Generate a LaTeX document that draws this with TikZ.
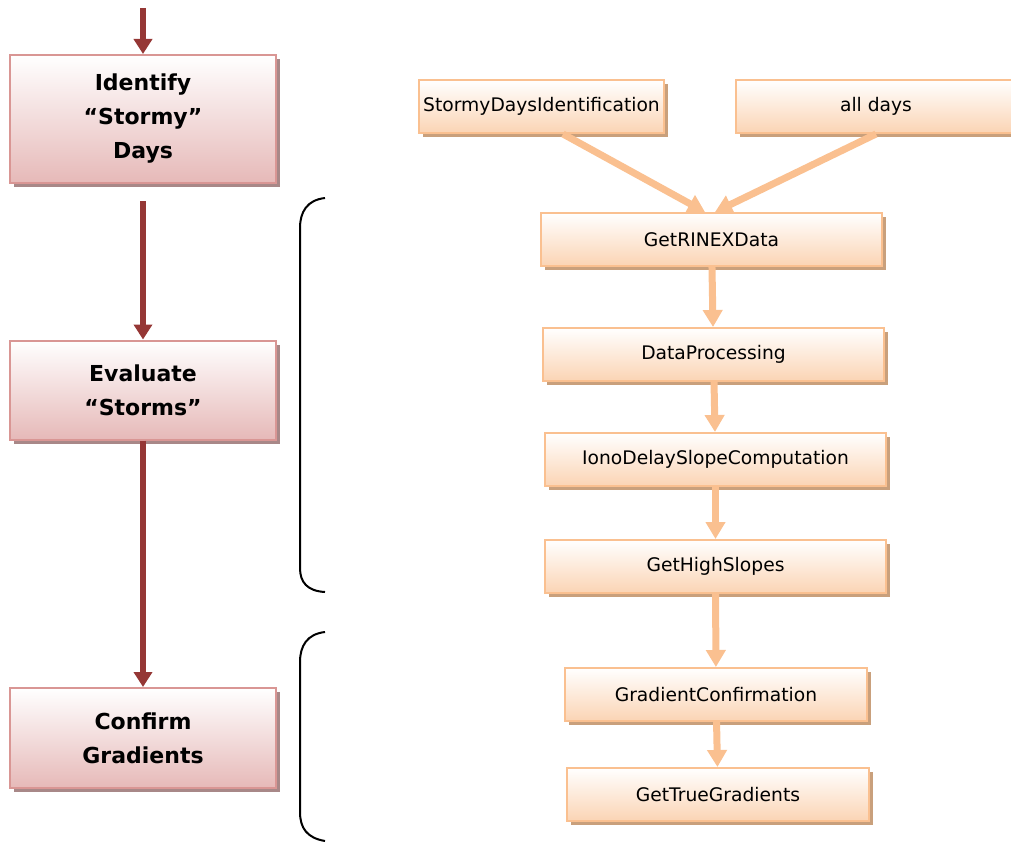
\documentclass[tikz,border=0pt]{standalone}
\usepackage{fontspec}
\setmainfont{DejaVu Sans}
\usetikzlibrary{arrows.meta,shadows}
\definecolor{phaseline}{HTML}{D99694}
\definecolor{phasefill}{HTML}{E6B9B8}
\definecolor{phaseshadow}{HTML}{A88888}
\definecolor{phasearrow}{HTML}{953735}
\definecolor{funcline}{HTML}{FAC090}
\definecolor{funcfill}{HTML}{FBD4B4}
\definecolor{funcshadow}{HTML}{C9A07C}
\tikzset{
  phase/.style={draw=phaseline,line width=2pt,top color=white,bottom color=phasefill,
    minimum width=266pt,align=center,font=\bfseries\fontsize{22}{34}\selectfont,
    general shadow={fill=phaseshadow,shadow xshift=4pt,shadow yshift=-4pt}},
  func/.style={draw=funcline,line width=2pt,top color=white,bottom color=funcfill,
    minimum width=341pt,minimum height=53pt,font=\fontsize{18.7}{22}\selectfont,
    general shadow={fill=funcshadow,shadow xshift=4pt,shadow yshift=-4pt}},
  phasearrow/.style={draw=phasearrow,line width=6pt,-{Triangle[width=18pt,length=15pt]}},
  funcarrow/.style={draw=funcline,line width=7pt,-{Triangle[width=19pt,length=17pt]}}
}
\begin{document}
\begin{tikzpicture}[x=1pt,y=-1pt]
\useasboundingbox(0,0)rectangle(1011,843);
% phases
\node[phase,minimum height=128pt](identify)at(143,119){Identify\\“Stormy”\\Days};
\node[phase,minimum height=99pt](evaluate)at(143,390){Evaluate\\“Storms”};
\node[phase,minimum height=100pt](confirm)at(143,738){Confirm\\Gradients};
\coordinate(start)at(143,8);
\draw[phasearrow](start)--(identify);
\draw[phasearrow,shorten <=17pt](identify)--(evaluate);
\draw[phasearrow](evaluate)--(confirm);
% braces
\draw[line width=2pt](325,198)..controls(307,200)and(300,212)..(300,228)--(300,568)..controls(300,582)and(307,591)..(325,592);
\draw[line width=2pt](325,632)..controls(307,634)and(300,646)..(300,662)--(300,812)..controls(300,828)and(307,838)..(325,841);
% functions
\node[func,minimum width=245pt](stormy)at(541.5,106.5){StormyDaysIdentification};
\node[func,minimum width=280pt](alldays)at(876,106.5){all days};
\node[func](rinex)at(711.5,239.5){GetRINEXData};
\node[func](dataproc)at(713.5,354.5){DataProcessing};
\node[func](iono)at(715.5,459.5){IonoDelaySlopeComputation};
\node[func](high)at(715.5,566.5){GetHighSlopes};
\node[func,minimum width=302pt](gradconf)at(716,694.5){GradientConfirmation};
\node[func,minimum width=302pt](truegrad)at(718,794.5){GetTrueGradients};
\draw[funcarrow]([xshift=21.5pt]stormy.south)--([xshift=-6.5pt]rinex.north);
\draw[funcarrow](alldays.south)--([xshift=3.5pt]rinex.north);
\draw[funcarrow](rinex)--(dataproc);
\draw[funcarrow](dataproc)--(iono);
\draw[funcarrow](iono)--(high);
\draw[funcarrow](high)--(gradconf);
\draw[funcarrow](gradconf)--(truegrad);
\end{tikzpicture}
\end{document}
